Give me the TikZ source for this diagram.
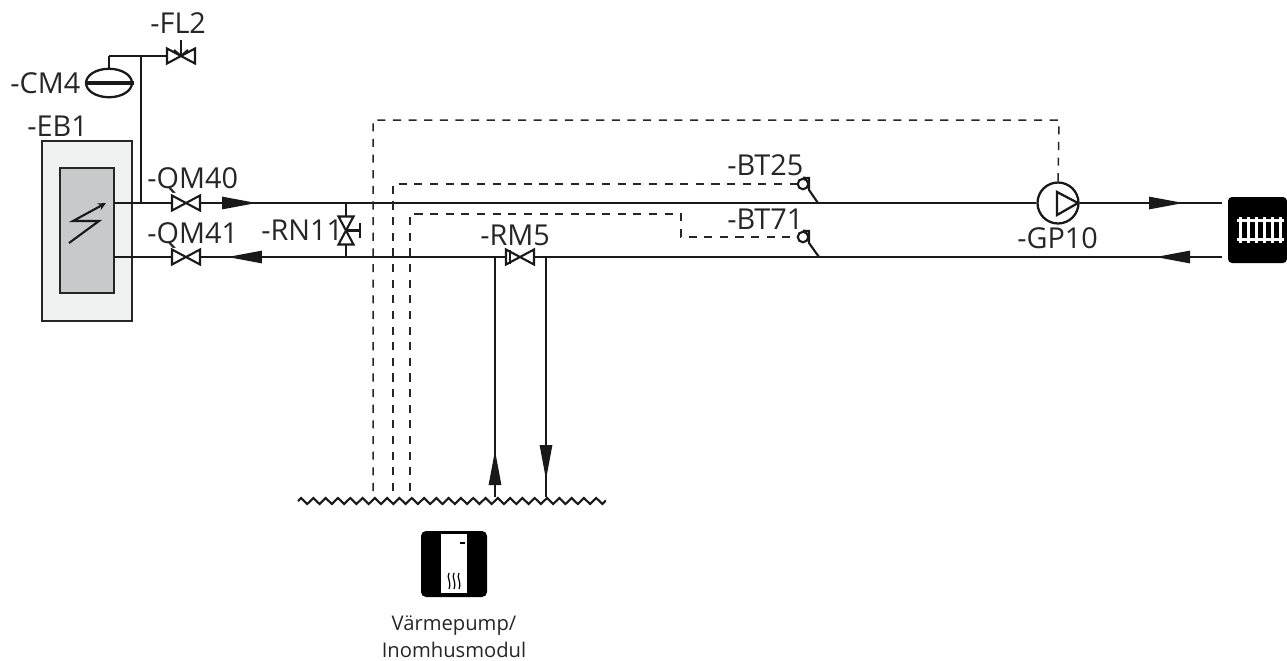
\documentclass[tikz,border=0pt]{standalone}
\usepackage{fontspec}
\setmainfont{Open Sans}
\usepackage{xcolor}
\usetikzlibrary{arrows.meta,decorations.pathmorphing,shapes.geometric}

\begin{document}
\begin{tikzpicture}[
    x=0.02cm, y=-0.02cm,
    pipe/.style={line width=1.6pt, draw=black!90},
    thinpipe/.style={line width=1.2pt, draw=black!90},
    signal/.style={line width=0.85pt, draw=black!85, dash pattern=on 4.6pt off 4.3pt},
    flow/.style={line width=1.6pt, draw=black!90, -{Triangle[length=0.7cm,width=0.24cm]}},
    valve/.style={inner sep=0pt, outer sep=0pt, minimum width=0.56cm, minimum height=0.3cm},
    tag/.style={font=\fontsize{16.4pt}{18pt}\selectfont, text=black!85, inner sep=0pt, anchor=base west},
    caption/.style={font=\fontsize{11.5pt}{15.3pt}\selectfont, text=black!85, align=center, inner sep=0pt},
    sensorbulb/.style={circle, draw=black!90, line width=1.2pt, minimum size=0.21cm, inner sep=0pt}
]
\newcommand{\drawvalve}[1]{\draw[thinpipe] (#1.north west) -- (#1.south east) -- (#1.north east) -- (#1.south west) -- cycle;}
\definecolor{casecolor}{RGB}{240,242,242}
\definecolor{corecolor}{RGB}{200,201,203}

\useasboundingbox (0,0) rectangle (1287,660);

% Heater
\node[draw=black!85, line width=1.3pt, fill=casecolor, minimum width=1.8cm, minimum height=3.6cm, inner sep=0pt] (eb1) at (87,231) {};
\node[draw=black!85, line width=1.3pt, fill=corecolor, minimum width=1.08cm, minimum height=2.5cm, inner sep=0pt] (core) at (87,230.5) {};
\coordinate (flash0) at (69,243);
\coordinate (flash1) at (99,221);
\coordinate (flash2) at (73,221);
\coordinate (flash3) at (106,203);
\draw[thinpipe, -{Stealth[length=0.16cm,width=0.15cm]}] (flash0) -- (flash1) -- (flash2) -- (flash3);

% Valves and pump
\node[valve] (qm40) at (186,203) {};
\node[valve] (qm41) at (186,257) {};
\node[valve] (rm5) at (520,257) {};
\node[valve, rotate=90] (rn11) at (346,230.5) {};
\node[valve] (fl2) at (181,56) {};
\node[circle, draw=black!90, line width=1.3pt, minimum size=0.82cm, inner sep=0pt] (gp10) at (1058,203) {};

% Expansion vessel
\node[ellipse, draw=black!90, line width=1.3pt, minimum width=0.92cm, minimum height=0.57cm, inner sep=0pt] (cm4) at (109,83) {};
\coordinate (cm4a) at (85,83);
\coordinate (cm4b) at (134,83);
\draw[line width=2.8pt, draw=black!90] (cm4a) -- (cm4b);

% Fixed points
\coordinate (top1) at (114,203);
\coordinate (top2) at (1222,203);
\coordinate (bot1) at (114,257);
\coordinate (bot2) at (1222,257);
\coordinate (tee1) at (141,203);
\coordinate (tee2) at (141,56);
\coordinate (tee3) at (109,56);
\coordinate (ret) at (495,257);
\coordinate (sup) at (546,257);
\coordinate (ground1) at (298,501);
\coordinate (ground2) at (606,501);
\coordinate (retend) at (495,497);
\coordinate (supend) at (546,497);

% Pipes
\draw[pipe] (top1) -- (qm40.west);
\draw[pipe] (qm40.east) -- (gp10.west);
\draw[pipe] (gp10.east) -- (top2);
\draw[pipe] (bot1) -- (qm41.west);
\draw[pipe] (qm41.east) -- (rm5.west);
\draw[pipe] (rm5.east) -- (bot2);
\draw[pipe] (tee1) -- (tee2) -- (fl2.west);
\draw[pipe] (tee3) -- (tee2);
\draw[pipe] (tee3) -- (cm4.north);
\draw[pipe] (ret) -- (retend);
\draw[pipe] (sup) -- (supend);
\draw[thinpipe] (346,203) -- (rn11.east);
\draw[thinpipe] (rn11.west) -- (346,257);
\draw[thinpipe] (rn11.center) -- (360,230.5);
\draw[thinpipe] (360,223) -- (360,238);
\draw[thinpipe] (fl2.center) -- (181,40);
\draw[thinpipe] (174,50) -- (181,56) -- (188,50);
\drawvalve{qm40}
\drawvalve{qm41}
\drawvalve{rm5}
\drawvalve{rn11}
\drawvalve{fl2}
\draw[thinpipe] (510,250) -- (510,264);
\draw[line width=1.3pt, draw=black!90] (1057,192) -- (1078,203) -- (1057,215) -- cycle;

% Flow arrows
\draw[flow] (222,203) -- (257,203);
\draw[flow] (262,257) -- (227,257);
\draw[flow] (1149,203) -- (1184,203);
\draw[flow] (1190,257) -- (1155,257);
\draw[flow] (495,485) -- (495,450);
\draw[flow] (546,445) -- (546,480);

% Ground line
\draw[thinpipe, decorate, decoration={zigzag, segment length=0.246cm, amplitude=0.06cm}] (ground1) -- (ground2);

% Sensors
\node[sensorbulb] (bt25) at (803,184) {};
\node[sensorbulb] (bt71) at (803,237) {};
\coordinate (bt25p) at (818,203);
\coordinate (bt71p) at (819,257);
\draw[thinpipe] (bt25.north) -- (809,178) -- (809,190) -- (bt25p);
\draw[thinpipe] (bt71.north) -- (809,231) -- (809,243) -- (bt71p);

% Signal lines
\coordinate (sig1a) at (373,491);
\coordinate (sig1b) at (373,120);
\coordinate (sig1c) at (1059,120);
\coordinate (sig2a) at (393,491);
\coordinate (sig2b) at (393,184);
\coordinate (sig3a) at (410,491);
\coordinate (sig3b) at (410,214);
\coordinate (sig3c) at (681,214);
\coordinate (sig3d) at (681,237);
\draw[signal] (sig1a) -- (sig1b) -- (sig1c) -- (gp10.north);
\draw[signal] (sig2a) -- (sig2b) -- (bt25.west);
\draw[signal] (sig3a) -- (sig3b) -- (sig3c) -- (sig3d) -- (bt71.west);

% Radiator
\node[fill=black, rounded corners=0.08cm, minimum width=1.18cm, minimum height=1.32cm, inner sep=0pt] (radiator) at (1257.5,230) {};
\fill[white] (1237,219) rectangle (1284,222);
\fill[white] (1237,238) rectangle (1284,241);
\foreach \xx in {1240,1248,1256,1264,1272,1280}
    \fill[white] (\xx-1.5,217) rectangle (\xx+1.5,243);

% Indoor module
\node[fill=black, rounded corners=0.1cm, minimum size=1.32cm, inner sep=0pt] (module) at (454,564) {};
\fill[white] (441,534) rectangle (467,593);
\fill[black] (460,542) rectangle (465,544);
\foreach \xx in {449,454,459}
    \draw[black, line width=0.7pt] (\xx,573) .. controls (\xx-3,578) and (\xx+3,581) .. (\xx,589);

% Labels
\node[tag] (fl2label) at (150,33) {-FL2};
\node[tag] (cm4label) at (10,93) {-CM4};
\node[tag] (eb1label) at (27,136) {-EB1};
\node[tag] (qm40label) at (147,188) {-QM40};
\node[tag] (qm41label) at (147,243) {-QM41};
\node[tag] (rn11label) at (261,240) {-RN11};
\node[tag] (rm5label) at (480,245) {-RM5};
\node[tag] (bt25label) at (727,175) {-BT25};
\node[tag] (bt71label) at (727,229) {-BT71};
\node[tag] (gp10label) at (1017,248) {-GP10};
\node[caption] (modulelabel) at (454,637) {Värmepump/\\Inomhusmodul};

\end{tikzpicture}
\end{document}
